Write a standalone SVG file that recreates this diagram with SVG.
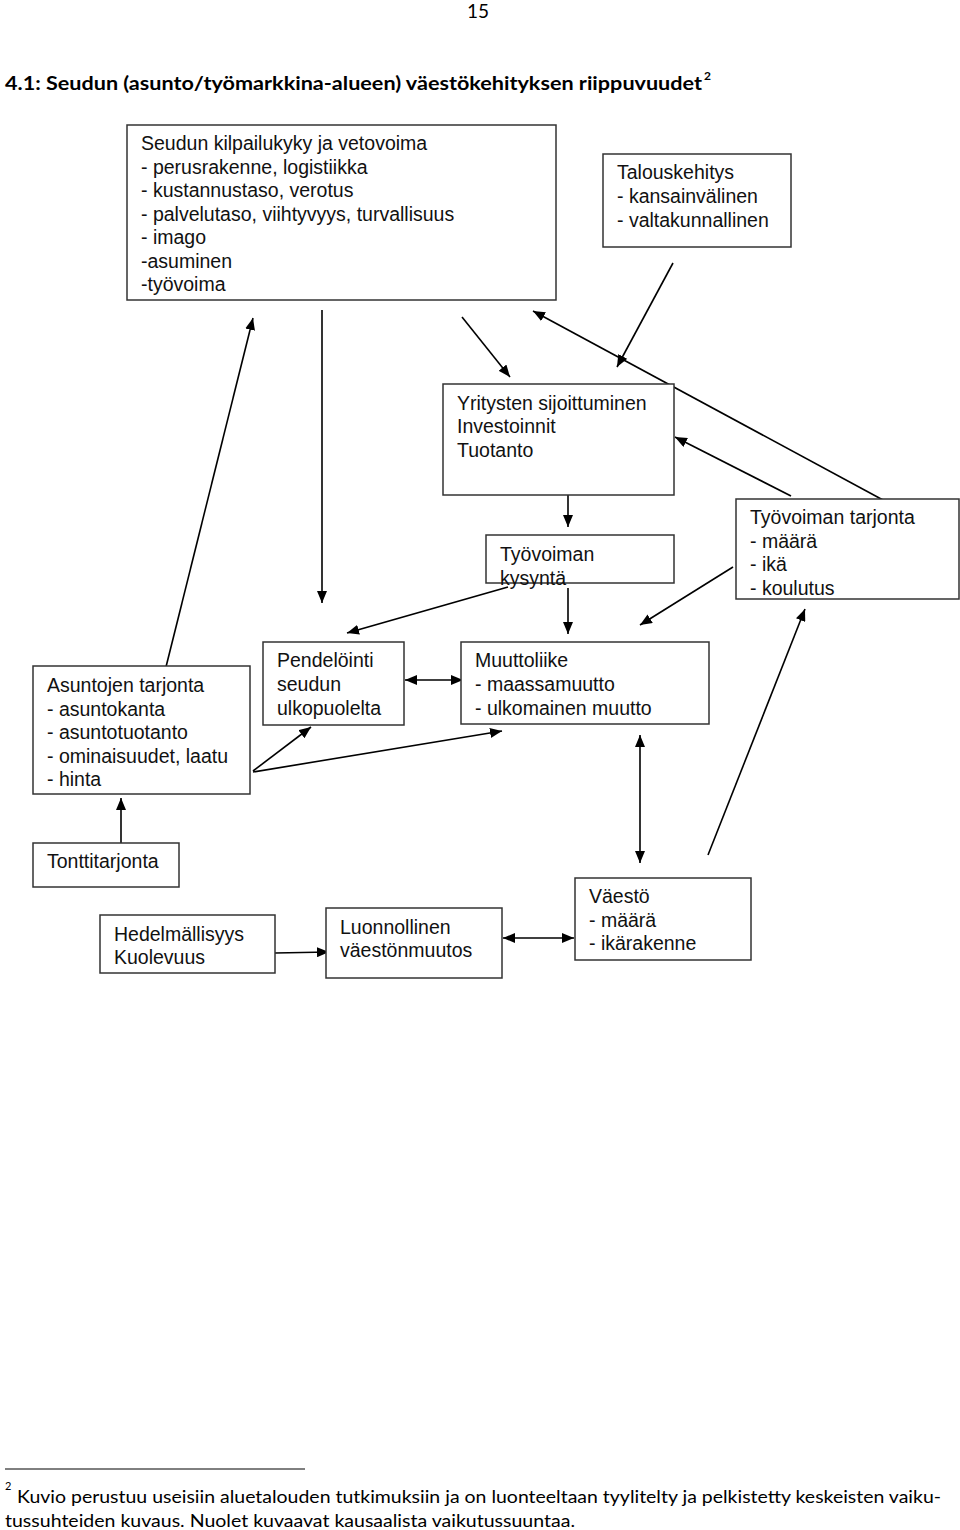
<svg xmlns="http://www.w3.org/2000/svg" width="960" height="1530" viewBox="0 0 960 1530">
<style>
.box{fill:#fff;stroke:#333;stroke-width:1.5}
.t{font-family:"Liberation Sans",Arial,sans-serif;font-size:19.5px;fill:#111}
.c{font-family:Lato,"Liberation Sans",sans-serif;fill:#000}
.ln{stroke:#000;stroke-width:1.6;fill:none}
</style>
<defs>
<marker id="ah" viewBox="0 0 12 10" refX="12" refY="5" markerWidth="12" markerHeight="10" markerUnits="userSpaceOnUse" orient="auto-start-reverse">
<path d="M0,0 L12,5 L0,10 z" fill="#000"/>
</marker>
</defs>
<rect width="960" height="1530" fill="#fff"/>
<text class="c" x="478" y="18" font-size="19" text-anchor="middle">15</text>
<text class="c" x="5" y="90" font-size="19" font-weight="bold" textLength="697" lengthAdjust="spacingAndGlyphs">4.1: Seudun (asunto/työmarkkina-alueen) väestökehityksen riippuvuudet</text>
<text class="c" x="704" y="80" font-size="12" font-weight="bold">2</text>

<g id="connectors">
<line class="ln" x1="165" y1="671" x2="253" y2="318" marker-end="url(#ah)"/>
<line class="ln" x1="322" y1="310" x2="322" y2="603" marker-end="url(#ah)"/>
<line class="ln" x1="462" y1="317" x2="510" y2="377" marker-end="url(#ah)"/>
<line class="ln" x1="673" y1="263" x2="617" y2="367" marker-end="url(#ah)"/>
<line class="ln" x1="883" y1="500" x2="533" y2="311" marker-end="url(#ah)"/>
<line class="ln" x1="791" y1="496" x2="675" y2="437" marker-end="url(#ah)"/>
<line class="ln" x1="568" y1="481" x2="568" y2="527" marker-end="url(#ah)"/>
<line class="ln" x1="568" y1="588" x2="568" y2="634" marker-end="url(#ah)"/>
<line class="ln" x1="508" y1="587" x2="347" y2="633" marker-end="url(#ah)"/>
<line class="ln" x1="733" y1="567" x2="640" y2="625" marker-end="url(#ah)"/>
<line class="ln" x1="708" y1="855" x2="805" y2="609" marker-end="url(#ah)"/>
<line class="ln" x1="640" y1="735" x2="640" y2="863" marker-start="url(#ah)" marker-end="url(#ah)"/>
<line class="ln" x1="405" y1="680" x2="463" y2="680" marker-start="url(#ah)" marker-end="url(#ah)"/>
<line class="ln" x1="253" y1="771" x2="311" y2="727" marker-end="url(#ah)"/>
<line class="ln" x1="253" y1="772" x2="502" y2="731" marker-end="url(#ah)"/>
<line class="ln" x1="121" y1="843" x2="121" y2="798" marker-end="url(#ah)"/>
<line class="ln" x1="275" y1="953" x2="329" y2="952" marker-end="url(#ah)"/>
<line class="ln" x1="503" y1="938" x2="574" y2="938" marker-start="url(#ah)" marker-end="url(#ah)"/>
</g>

<g id="seudun">
<rect class="box" x="127" y="125" width="429" height="175"/>
<text class="t" x="141" y="150">Seudun kilpailukyky ja vetovoima</text>
<text class="t" x="141" y="173.5">- perusrakenne, logistiikka</text>
<text class="t" x="141" y="197">- kustannustaso, verotus</text>
<text class="t" x="141" y="220.5">- palvelutaso, viihtyvyys, turvallisuus</text>
<text class="t" x="141" y="244">- imago</text>
<text class="t" x="141" y="267.5">-asuminen</text>
<text class="t" x="141" y="291">-työvoima</text>
</g>
<g id="talous">
<rect class="box" x="603" y="154" width="188" height="93"/>
<text class="t" x="617" y="179">Talouskehitys</text>
<text class="t" x="617" y="203">- kansainvälinen</text>
<text class="t" x="617" y="227">- valtakunnallinen</text>
</g>
<g id="yritysten">
<rect class="box" x="443" y="384" width="231" height="111"/>
<text class="t" x="457" y="410">Yritysten sijoittuminen</text>
<text class="t" x="457" y="433">Investoinnit</text>
<text class="t" x="457" y="457">Tuotanto</text>
</g>
<g id="kysynta">
<rect class="box" x="486" y="535" width="188" height="48"/>
<text class="t" x="500" y="561">Työvoiman</text>
<text class="t" x="500" y="585">kysyntä</text>
</g>
<g id="tarjonta">
<rect class="box" x="736" y="499" width="223" height="100"/>
<text class="t" x="750" y="524">Työvoiman tarjonta</text>
<text class="t" x="750" y="548">- määrä</text>
<text class="t" x="750" y="571">- ikä</text>
<text class="t" x="750" y="595">- koulutus</text>
</g>
<g id="asuntojen">
<rect class="box" x="33" y="666" width="217" height="128"/>
<text class="t" x="47" y="692">Asuntojen tarjonta</text>
<text class="t" x="47" y="715.5">- asuntokanta</text>
<text class="t" x="47" y="739">- asuntotuotanto</text>
<text class="t" x="47" y="762.5">- ominaisuudet, laatu</text>
<text class="t" x="47" y="786">- hinta</text>
</g>
<g id="pendelointi">
<rect class="box" x="263" y="642" width="141" height="83"/>
<text class="t" x="277" y="667">Pendelöinti</text>
<text class="t" x="277" y="691">seudun</text>
<text class="t" x="277" y="715">ulkopuolelta</text>
</g>
<g id="muuttoliike">
<rect class="box" x="461" y="642" width="248" height="82"/>
<text class="t" x="475" y="667">Muuttoliike</text>
<text class="t" x="475" y="691">- maassamuutto</text>
<text class="t" x="475" y="715">- ulkomainen muutto</text>
</g>
<g id="tontti">
<rect class="box" x="33" y="843" width="146" height="44"/>
<text class="t" x="47" y="868">Tonttitarjonta</text>
</g>
<g id="hedelmallisyys">
<rect class="box" x="100" y="915" width="175" height="58"/>
<text class="t" x="114" y="941">Hedelmällisyys</text>
<text class="t" x="114" y="964">Kuolevuus</text>
</g>
<g id="luonnollinen">
<rect class="box" x="326" y="908" width="176" height="70"/>
<text class="t" x="340" y="934">Luonnollinen</text>
<text class="t" x="340" y="957">väestönmuutos</text>
</g>
<g id="vaesto">
<rect class="box" x="575" y="878" width="176" height="82"/>
<text class="t" x="589" y="903">Väestö</text>
<text class="t" x="589" y="926.5">- määrä</text>
<text class="t" x="589" y="950">- ikärakenne</text>
</g>

<line x1="5" y1="1469" x2="305" y2="1469" stroke="#000" stroke-width="1"/>
<text class="c" x="5" y="1490" font-size="11">2</text>
<text class="c" x="17" y="1503" font-size="18" textLength="924" lengthAdjust="spacingAndGlyphs">Kuvio perustuu useisiin aluetalouden tutkimuksiin ja on luonteeltaan tyylitelty ja pelkistetty keskeisten vaiku-</text>
<text class="c" x="5" y="1527" font-size="18" textLength="570" lengthAdjust="spacingAndGlyphs">tussuhteiden kuvaus. Nuolet kuvaavat kausaalista vaikutussuuntaa.</text>
</svg>
